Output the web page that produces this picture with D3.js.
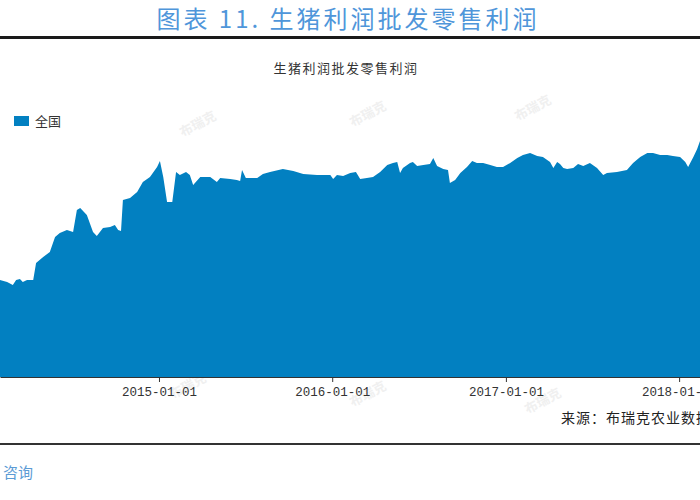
<!DOCTYPE html>
<html><head><meta charset="utf-8">
<script src="https://cdn.jsdelivr.net/npm/d3@7/dist/d3.min.js"></script>
<style>
html,body{margin:0;padding:0;background:#fff;overflow:hidden;}
svg{display:block;}
</style>
</head><body>
<svg id="c" width="700" height="500"></svg>
<script>
// ---- data ----
const pageTitle = "图表 11. 生猪利润批发零售利润";
const chartTitle = "生猪利润批发零售利润";
const seriesName = "全国";
const sourceText = "来源：布瑞克农业数据";
const footerText = "咨询";
const watermarkText = "布瑞克";
const tickDates = ["2015-01-01","2016-01-01","2017-01-01","2018-01-01"];
const xDomain = ["2014-01-31","2018-02-14"];
const yDomain = [0, 30];
const dates = ["2014-01-31","2014-02-15","2014-02-27","2014-03-06","2014-03-14","2014-03-20","2014-03-29","2014-04-11","2014-04-17","2014-05-02",
"2014-05-16","2014-05-27","2014-06-06","2014-06-21","2014-07-04","2014-07-12","2014-07-19","2014-08-02","2014-08-15","2014-08-23",
"2014-09-05","2014-09-20","2014-09-30","2014-10-07","2014-10-13","2014-10-17","2014-11-01","2014-11-16","2014-11-28","2014-12-13",
"2014-12-28","2015-01-03","2015-01-10","2015-01-18","2015-01-29","2015-02-06","2015-02-14","2015-02-27","2015-03-07","2015-03-14",
"2015-03-29","2015-04-19","2015-05-03","2015-05-10","2015-05-31","2015-06-14","2015-06-21","2015-06-25","2015-07-03","2015-07-27",
"2015-08-08","2015-08-23","2015-09-19","2015-10-11","2015-11-01","2015-11-30","2015-12-28","2016-01-03","2016-01-11","2016-01-24",
"2016-02-08","2016-02-20","2016-02-29","2016-03-14","2016-03-27","2016-04-11","2016-04-26","2016-05-08","2016-05-17","2016-05-23",
"2016-05-29","2016-06-13","2016-06-19","2016-06-28","2016-07-11","2016-07-25","2016-08-01","2016-08-09","2016-08-22","2016-09-01",
"2016-09-05","2016-09-16","2016-09-27","2016-10-11","2016-10-22","2016-11-01","2016-11-14","2016-11-29","2016-12-13","2016-12-26",
"2017-01-10","2017-01-25","2017-02-06","2017-02-21","2017-03-08","2017-03-20","2017-04-04","2017-04-11","2017-04-19","2017-04-25",
"2017-05-02","2017-05-10","2017-05-23","2017-06-02","2017-06-13","2017-06-27","2017-07-12","2017-07-25","2017-08-02","2017-08-23",
"2017-09-13","2017-09-26","2017-10-11","2017-10-26","2017-11-07","2017-11-22","2017-12-07","2017-12-19","2018-01-03","2018-01-14",
"2018-01-20","2018-01-31","2018-02-08","2018-02-14"];
const values = [9.7,9.5,9.2,9.7,9.8,9.5,9.7,9.7,11.4,12.0,
12.5,14.0,14.4,14.7,14.5,16.7,16.9,16.2,14.5,14.1,
14.9,15.0,15.2,14.7,14.6,17.7,17.9,18.5,19.5,20.0,
21.0,21.6,20.0,17.5,17.5,20.5,20.2,20.5,20.2,19.2,
20.0,20.0,19.5,19.9,19.8,19.7,19.6,20.7,19.9,19.9,
20.3,20.5,20.8,20.6,20.3,20.2,20.2,19.8,20.2,20.1,
20.4,20.5,19.8,19.9,20.0,20.5,21.2,21.4,21.5,20.4,
20.9,21.4,21.5,21.1,21.2,21.3,21.9,21.1,20.8,20.7,
19.4,19.7,20.4,21.0,21.6,21.4,21.4,21.2,21.0,21.0,
21.4,21.9,22.2,22.4,22.1,22.0,21.5,20.9,21.5,21.3,
20.9,20.8,20.9,21.3,21.1,21.4,20.9,20.2,20.4,20.5,
20.7,21.4,22.0,22.4,22.4,22.2,22.2,22.1,22.0,21.5,
21.0,22.0,22.8,23.6];

// ---- drawing ----
const parse = d3.timeParse("%Y-%m-%d");
const data = dates.map((d,i)=>({date:parse(d), value:values[i]}));
const svg = d3.select("#c");
const W = 700;
const areaColor = "#0280c1";
const baseY = 377;

const x = d3.scaleTime().domain(xDomain.map(parse)).range([0, W]);
const y = d3.scaleLinear().domain(yDomain).range([baseY, 77]);

// faint watermarks (interior only)
const wm = [[200,128],[370,118],[535,112],[190,390],[370,398],[545,405]];
svg.append("g").selectAll("text").data(wm).join("text")
  .attr("transform", d=>`translate(${d[0]},${d[1]}) rotate(-28)`)
  .attr("text-anchor","middle")
  .attr("font-family","'Noto Sans CJK SC', sans-serif")
  .attr("font-size",13).attr("font-weight","bold")
  .attr("fill","#f0f0f0")
  .text(watermarkText);

// page title
svg.append("text").attr("x",348).attr("y",28).attr("text-anchor","middle")
  .attr("font-family","'Noto Sans CJK SC', sans-serif").attr("font-size",24)
  .attr("letter-spacing",3)
  .attr("fill","#4f96da").text(pageTitle);

// rules
svg.append("rect").attr("x",0).attr("y",36).attr("width",W).attr("height",3).attr("fill","#1a1a1a");
svg.append("rect").attr("x",0).attr("y",443).attr("width",W).attr("height",2).attr("fill","#333");

// chart title
svg.append("text").attr("x",346).attr("y",73).attr("text-anchor","middle")
  .attr("font-family","'Noto Sans CJK SC', sans-serif").attr("font-size",13)
  .attr("letter-spacing",1.5)
  .attr("fill","#333").text(chartTitle);

// legend
svg.append("rect").attr("x",14).attr("y",116).attr("width",15).attr("height",10).attr("fill",areaColor);
svg.append("text").attr("x",35).attr("y",126)
  .attr("font-family","'Noto Sans CJK SC', sans-serif").attr("font-size",13)
  .attr("fill","#333").text(seriesName);

// area
const area = d3.area().x(d=>x(d.date)).y0(y(0)).y1(d=>y(d.value));
svg.append("path").datum(data).attr("d",area).attr("fill",areaColor);

// x axis
const axis = d3.axisBottom(x).tickValues(tickDates.map(parse))
  .tickFormat(d3.timeFormat("%Y-%m-%d")).tickSize(5).tickSizeOuter(0);
const gx = svg.append("g").attr("transform",`translate(0,${baseY})`).call(axis);
gx.select(".domain").attr("stroke","#333");
gx.selectAll(".tick line").attr("stroke","#333");
gx.selectAll(".tick text").attr("fill","#333")
  .attr("font-family","'Liberation Mono', monospace").attr("font-size",12.5).attr("dy","0.9em");

// source
svg.append("text").attr("x",561).attr("y",423)
  .attr("font-family","'Noto Sans CJK SC', sans-serif").attr("font-size",14)
  .attr("letter-spacing",1)
  .attr("fill","#222").text(sourceText);

// footer
svg.append("text").attr("x",3).attr("y",478)
  .attr("font-family","'Noto Sans CJK SC', sans-serif").attr("font-size",15)
  .attr("fill","#5b9bd5").text(footerText);
</script>
</body></html>
